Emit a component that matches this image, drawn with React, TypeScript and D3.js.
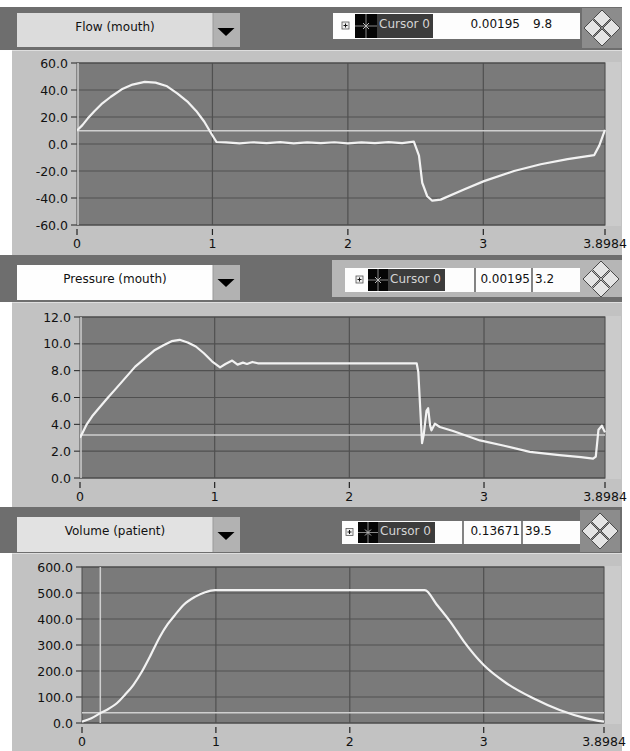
import React from "react";
import * as d3 from "d3";

// x axis (seconds) shared by all three graphs
const xTicks = [0, 1, 2, 3, 3.8984];
const xTickLabels = ["0", "1", "2", "3", "3.8984"];

const flowTicks = [60, 40, 20, 0, -20, -40, -60];
const pressureTicks = [12, 10, 8, 6, 4, 2, 0];
const volumeTicks = [600, 500, 400, 300, 200, 100, 0];

// Flow (mouth)
const flowT = [0, 0.04, 0.08, 0.13, 0.18, 0.25, 0.33, 0.41, 0.5, 0.58, 0.66, 0.74, 0.82, 0.88, 0.94, 0.99, 1.03,
  1.1, 1.2, 1.3, 1.4, 1.5, 1.6, 1.7, 1.8, 1.9, 2.0, 2.1, 2.2, 2.3, 2.4, 2.487,
  2.525, 2.549, 2.586, 2.623, 2.685, 2.857, 3.005, 3.227, 3.424, 3.622, 3.819, 3.856, 3.8984];
const flowV = [10, 14, 19, 24.5, 29.5, 35, 40.5, 44, 46, 45.5, 43, 37.5, 31, 24.5, 16.5, 8, 1.5,
  1.2, 0.5, 1.3, 0.6, 1.4, 0.5, 1.2, 0.6, 1.3, 0.5, 1.2, 0.6, 1.4, 0.7, 1.7,
  -8.7, -28.7, -38.7, -42, -41.2, -33.7, -27.5, -20, -15, -11.2, -8.2, -1.2, 10.5];

// Pressure (mouth)
const presT = [0, 0.02, 0.05, 0.09, 0.14, 0.2, 0.27, 0.34, 0.41, 0.48, 0.55, 0.62, 0.68, 0.74, 0.8, 0.86, 0.92, 0.98,
  1.04, 1.08, 1.13, 1.17, 1.21, 1.24, 1.28, 1.32, 1.5, 2.0, 2.5, 2.512, 2.53, 2.54, 2.552, 2.573, 2.585, 2.6, 2.61,
  2.635, 2.672, 2.77, 2.97, 3.15, 3.34, 3.56, 3.72, 3.81, 3.83, 3.85, 3.875, 3.8984];
const presV = [3.0, 3.4, 4.0, 4.6, 5.2, 5.9, 6.7, 7.5, 8.3, 8.9, 9.5, 9.9, 10.2, 10.3, 10.1, 9.8, 9.3, 8.7,
  8.25, 8.5, 8.75, 8.45, 8.6, 8.5, 8.65, 8.55, 8.55, 8.55, 8.55, 7.9, 4.5, 2.6, 3.2, 5.0, 5.2, 3.9, 3.55,
  4.05, 3.8, 3.5, 2.8, 2.4, 1.95, 1.7, 1.55, 1.45, 1.6, 3.6, 3.9, 3.4];

// Volume (patient)
const volT = [0, 0.07, 0.134, 0.2, 0.26, 0.32, 0.383, 0.45, 0.507, 0.582, 0.64, 0.694, 0.76, 0.843, 0.92, 0.99,
  1.5, 2.0, 2.56, 2.65, 2.75, 2.85, 3.0, 3.17, 3.37, 3.567, 3.766, 3.8984];
const volV = [5, 18, 37, 55, 76, 108, 146, 200, 255, 332, 380, 415, 455, 485, 503, 511,
  511, 511, 511, 455, 390, 315, 223, 153, 95, 50, 18, 5];

const graphNames = ["Flow (mouth)", "Pressure (mouth)", "Volume (patient)"];
const cursorX = [0.00195, 0.00195, 0.13671];
const cursorY = [9.8, 3.2, 39.5];
const cursorXText = ["0.00195", "0.00195", "0.13671"];
const cursorYText = ["9.8", "3.2", "39.5"];

const FONT = "DejaVu Sans, Verdana, sans-serif";
const HEADER = "#6e6e6e";
const PANEL = "#c2c2c2";
const PLOT = "#7a7a7a";
const GRID = "#505050";

function Diamond({ cx, cy }: { cx: number; cy: number }) {
  const r = 9.5;
  const offs = [[0, -r], [-r, 0], [r, 0], [0, r]];
  return (
    <g>
      {offs.map(([dx, dy], i) => {
        const x = cx + dx, y = cy + dy;
        return (
          <polygon key={i}
            points={`${x},${y - r + 1} ${x + r - 1},${y} ${x},${y + r - 1} ${x - r + 1},${y}`}
            fill="#e4e4e4" stroke="#4a4a4a" strokeWidth={1} />
        );
      })}
    </g>
  );
}

function Panel(p: any) {
  const i = p.index;
  const x = d3.scaleLinear().domain([0, 3.8984]).range([p.plotLeft, p.plotRight]);
  const y = d3.scaleLinear().domain(p.yDomain).range([p.plotBottom, p.plotTop]);
  const pts = p.t.map((t: number, k: number) => [t, p.v[k]] as [number, number]);
  const line = d3.line<[number, number]>().x(d => x(d[0])).y(d => y(d[1])).curve(p.curve);
  const clipId = `clip${i}`;
  const c = p.cursor;
  const triCx = 226;
  return (
    <g>
      {/* header band */}
      <rect x={0} y={p.headerTop} width={622} height={p.bodyTop - p.headerTop} fill={HEADER} />
      {/* body */}
      <rect x={12} y={p.bodyTop} width={610} height={p.bodyBottom - p.bodyTop} fill={PANEL} />
      <line x1={12} x2={622} y1={p.bodyTop + 0.5} y2={p.bodyTop + 0.5} stroke="#dedede" />
      {/* dropdown */}
      <rect x={17} y={p.dropTop} width={196} height={p.dropBottom - p.dropTop} fill={p.boxFill} />
      <rect x={213} y={p.dropTop} width={27} height={p.dropBottom - p.dropTop} fill="#b2b2b2" />
      <line x1={213} x2={213} y1={p.dropTop} y2={p.dropBottom} stroke="#9a9a9a" />
      <text x={115} y={p.textBase} textAnchor="middle" fontFamily={FONT} fontSize={12} fill="#111">{graphNames[i]}</text>
      <polygon points={`${triCx - 8.5},${p.arrowTop} ${triCx + 8.5},${p.arrowTop} ${triCx},${p.arrowTop + 8}`} fill="#000" />
      {/* cursor legend */}
      {c.frame && <rect x={c.frame[0]} y={c.frame[1]} width={c.frame[2]} height={c.frame[3]} fill="#b6b6b6" />}
      {c.dBg && <rect x={c.dBg[0]} y={c.dBg[1]} width={c.dBg[2]} height={c.dBg[3]} fill="#8c8c8c" />}
      <rect x={c.x0} y={c.y0} width={c.x1 - c.x0} height={c.y1 - c.y0} fill="#fdfdfd" />
      <rect x={c.plusX} y={(c.y0 + c.y1) / 2 - 4} width={7} height={7} fill="#eeeeee" stroke="#555" strokeWidth={0.8} />
      <line x1={c.plusX + 1.5} x2={c.plusX + 5.5} y1={(c.y0 + c.y1) / 2 - 0.5} y2={(c.y0 + c.y1) / 2 - 0.5} stroke="#111" />
      <line x1={c.plusX + 3.5} x2={c.plusX + 3.5} y1={(c.y0 + c.y1) / 2 - 2.5} y2={(c.y0 + c.y1) / 2 + 1.5} stroke="#111" />
      <rect x={c.iconX0} y={c.y0 + 1} width={c.iconX1 - c.iconX0} height={c.y1 - c.y0 - 2} fill="#050505" />
      <line x1={c.iconX0} x2={c.iconX1} y1={(c.y0 + c.y1) / 2} y2={(c.y0 + c.y1) / 2} stroke="#8a8a8a" />
      <line x1={(c.iconX0 + c.iconX1) / 2} x2={(c.iconX0 + c.iconX1) / 2} y1={c.y0 + 1} y2={c.y1 - 1} stroke="#8a8a8a" />
      <path d={`M${(c.iconX0 + c.iconX1) / 2 - 3},${(c.y0 + c.y1) / 2 - 3} l6,6 M${(c.iconX0 + c.iconX1) / 2 + 3},${(c.y0 + c.y1) / 2 - 3} l-6,6`} stroke="#bbbbbb" />
      <rect x={c.iconX1} y={c.y0 + 1} width={c.labelX1 - c.iconX1} height={c.y1 - c.y0 - 2} fill="#3c3c3c" />
      <text x={c.iconX1 + 2} y={c.base} fontFamily={FONT} fontSize={12} fill="#d4d4d4">Cursor 0</text>
      {c.seps.map((s: number) => (
        <line key={s} x1={s} x2={s} y1={c.y0} y2={c.y1} stroke="#333" strokeWidth={1.2} />
      ))}
      <text x={c.valEnd} y={c.base} textAnchor="end" fontFamily={FONT} fontSize={12} fill="#111">{cursorXText[i]}</text>
      <text x={c.yStart} y={c.base} fontFamily={FONT} fontSize={12} fill="#111">{cursorYText[i]}</text>
      <Diamond cx={c.dcx} cy={c.dcy} />
      {/* plot */}
      <rect x={p.plotRight + 1} y={p.plotTop - 1} width={621 - p.plotRight - 1} height={p.plotBottom - p.plotTop + 2} fill="#cbcbcb" />
      <rect x={p.plotLeft} y={p.plotTop} width={p.plotRight - p.plotLeft} height={p.plotBottom - p.plotTop} fill={PLOT} />
      {p.yTicks.map((v: number) => (
        <g key={v}>
          <line x1={p.plotLeft} x2={p.plotRight} y1={y(v)} y2={y(v)} stroke={GRID} strokeWidth={1.2} />
          <line x1={p.plotLeft - 6} x2={p.plotLeft} y1={y(v)} y2={y(v)} stroke="#222" />
          <text x={p.plotLeft - 9} y={y(v)} dy="0.36em" textAnchor="end" fontFamily={FONT} fontSize={12.5} fill="#111">{v.toFixed(1)}</text>
        </g>
      ))}
      {xTicks.map((t, k) => (
        <g key={t}>
          {k > 0 && k < xTicks.length - 1 && (
            <line x1={x(t)} x2={x(t)} y1={p.plotTop} y2={p.plotBottom} stroke={GRID} strokeWidth={1.2} />
          )}
          <line x1={x(t)} x2={x(t)} y1={p.plotBottom + 4} y2={p.plotBottom + 10} stroke="#222" strokeWidth={1.2} />
          <text x={x(t)} y={p.plotBottom + 22.5} textAnchor="middle" fontFamily={FONT} fontSize={12.5} fill="#111">{xTickLabels[k]}</text>
        </g>
      ))}
      <rect x={p.plotLeft} y={p.plotTop} width={p.plotRight - p.plotLeft} height={p.plotBottom - p.plotTop} fill="none" stroke="#4a4a4a" />
      <clipPath id={clipId}>
        <rect x={p.plotLeft} y={p.plotTop} width={p.plotRight - p.plotLeft + 1} height={p.plotBottom - p.plotTop} />
      </clipPath>
      <g clipPath={`url(#${clipId})`}>
        <line x1={p.plotLeft} x2={p.plotRight} y1={y(cursorY[i])} y2={y(cursorY[i])} stroke="#cfcfcf" strokeWidth={1.5} />
        <line x1={Math.max(x(cursorX[i]), p.plotLeft + 1)} x2={Math.max(x(cursorX[i]), p.plotLeft + 1)} y1={p.plotTop} y2={p.plotBottom} stroke="#cfcfcf" strokeWidth={1.5} />
        <path d={line(pts) || ""} fill="none" stroke="#f2f2f2" strokeWidth={2.2} strokeLinejoin="round" />
      </g>
    </g>
  );
}

export default function App() {
  const panels = [
    {
      index: 0, boxFill: "#dcdcdc", headerTop: 7, bodyTop: 50, bodyBottom: 255,
      dropTop: 13, dropBottom: 47, textBase: 30.5, arrowTop: 28,
      plotLeft: 77, plotRight: 605, plotTop: 63, plotBottom: 225,
      yDomain: [-60, 60], yTicks: flowTicks, t: flowT, v: flowV, curve: d3.curveLinear,
      cursor: { frame: null, dBg: [582, 8, 40, 40], x0: 333, x1: 580, y0: 13, y1: 39, plusX: 342,
        iconX0: 355, iconX1: 377, labelX1: 433, seps: [], valEnd: 520, yStart: 533, base: 27.5, dcx: 602, dcy: 28 },
    },
    {
      index: 1, boxFill: "#fefefe", headerTop: 255, bodyTop: 302, bodyBottom: 507,
      dropTop: 265, dropBottom: 300, textBase: 282.5, arrowTop: 279,
      plotLeft: 80, plotRight: 605, plotTop: 317, plotBottom: 478,
      yDomain: [0, 12], yTicks: pressureTicks, t: presT, v: presV, curve: d3.curveLinear,
      cursor: { frame: [332, 260, 290, 37], dBg: null, x0: 345, x1: 580, y0: 268, y1: 292, plusX: 356,
        iconX0: 368, iconX1: 388, labelX1: 445, seps: [475, 532], valEnd: 530, yStart: 535, base: 282.5, dcx: 601, dcy: 279 },
    },
    {
      index: 2, boxFill: "#e2e2e2", headerTop: 507, bodyTop: 553, bodyBottom: 751,
      dropTop: 517, dropBottom: 552, textBase: 534.5, arrowTop: 532,
      plotLeft: 82, plotRight: 604, plotTop: 567, plotBottom: 723,
      yDomain: [0, 600], yTicks: volumeTicks, t: volT, v: volV, curve: d3.curveMonotoneX,
      cursor: { frame: null, dBg: [580, 510, 40, 42], x0: 342, x1: 580, y0: 521, y1: 544, plusX: 346,
        iconX0: 358, iconX1: 378, labelX1: 435, seps: [463, 522], valEnd: 520, yStart: 525, base: 534.5, dcx: 600, dcy: 531 },
    },
  ];
  return (
    <svg width={630} height={751} style={{ position: "absolute", left: 0, top: 0, background: "#fff" }}>
      <rect x={0} y={0} width={630} height={751} fill="#fff" />
      {panels.map(p => <Panel key={p.index} {...p} />)}
    </svg>
  );
}
